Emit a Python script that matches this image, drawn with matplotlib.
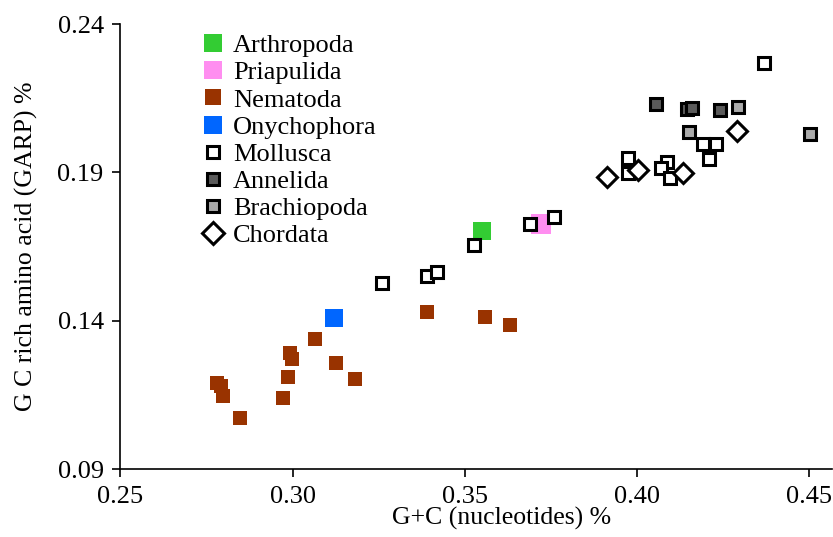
import matplotlib
matplotlib.use("Agg")
import matplotlib.pyplot as plt

plt.rcParams['font.family'] = ['Liberation Serif', 'DejaVu Serif']

# ---- data ----
arthropoda_x = [0.3549]
arthropoda_y = [0.1703]
priapulida_x = [0.3721]
priapulida_y = [0.1726]
nematoda_x = [0.2782, 0.2791, 0.2799, 0.2846, 0.2971, 0.2988, 0.2994, 0.2997,
              0.3064, 0.3125, 0.3180, 0.3390, 0.3558, 0.3631]
nematoda_y = [0.1190, 0.1180, 0.1146, 0.1072, 0.1139, 0.1210, 0.1291, 0.1271,
              0.1338, 0.1257, 0.1204, 0.1429, 0.1412, 0.1386]
onychophora_x = [0.3119]
onychophora_y = [0.1409]
mollusca_x = [0.3259, 0.3390, 0.3419, 0.3526, 0.3689, 0.3759, 0.4369, 0.4192,
              0.4230, 0.4209, 0.3974, 0.3974, 0.4087, 0.4070, 0.4096]
mollusca_y = [0.1527, 0.1551, 0.1564, 0.1655, 0.1726, 0.1750, 0.2269, 0.1996,
              0.1996, 0.1945, 0.1948, 0.1898, 0.1935, 0.1915, 0.1881]
annelida_x = [0.4055, 0.4145, 0.4160, 0.4241]
annelida_y = [0.2130, 0.2114, 0.2117, 0.2110]
brachiopoda_x = [0.4294, 0.4151, 0.4503]
brachiopoda_y = [0.2120, 0.2036, 0.2029]
chordata_x = [0.4291, 0.3913, 0.4003, 0.4134]
chordata_y = [0.2039, 0.1884, 0.1908, 0.1898]

x_ticks = [0.25, 0.30, 0.35, 0.40, 0.45]
y_ticks = [0.09, 0.14, 0.19, 0.24]

fig = plt.figure(figsize=(8.33, 5.37), dpi=100)
ax = fig.add_axes([0.1445, 0.1266, 0.8545, 0.8287])

ax.plot(arthropoda_x, arthropoda_y, 's', ms=13, mfc='#33CC33', mec='#33CC33', mew=0, label='Arthropoda', zorder=3)
ax.plot(priapulida_x, priapulida_y, 's', ms=14, mfc='#FF8EF0', mec='#FF8EF0', mew=0, label='Priapulida', zorder=3)
ax.plot(nematoda_x, nematoda_y, 's', ms=10.5, mfc='#993300', mec='#993300', mew=0, label='Nematoda', zorder=3)
ax.plot(onychophora_x, onychophora_y, 's', ms=13.5, mfc='#0066FF', mec='#0066FF', mew=0, label='Onychophora', zorder=3)
ax.plot(mollusca_x, mollusca_y, 's', ms=9, mfc='white', mec='black', mew=2.2, label='Mollusca', zorder=4)
ax.plot(annelida_x, annelida_y, 's', ms=9, mfc='#5A5A5A', mec='black', mew=2.2, label='Annelida', zorder=4)
ax.plot(brachiopoda_x, brachiopoda_y, 's', ms=9, mfc='#AAAAAA', mec='black', mew=2.2, label='Brachiopoda', zorder=4)
ax.plot(chordata_x, chordata_y, 'D', ms=10, mfc='white', mec='black', mew=2.2, label='Chordata', zorder=4)

ax.set_xlim(0.25, 0.4567)
ax.set_ylim(0.09, 0.24)
ax.set_xticks(x_ticks)
ax.set_xticklabels([f"{v:.2f}" for v in x_ticks])
ax.set_yticks(y_ticks)
ax.set_yticklabels([f"{v:.2f}" for v in y_ticks])

for s in ['top', 'right']:
    ax.spines[s].set_visible(False)
for s in ['left', 'bottom']:
    ax.spines[s].set_linewidth(1.2)
ax.tick_params(axis='both', direction='out', length=6, width=1.2, labelsize=19, pad=6)

ax.set_xlabel('G+C (nucleotides) %', fontsize=18.5, labelpad=0)
ax.xaxis.set_label_coords(0.535, -0.085)
ax.set_ylabel('G C rich amino acid (GARP) %', fontsize=18.5, labelpad=14)

leg = ax.legend(loc='upper left', bbox_to_anchor=(0.243, 0.937), bbox_transform=fig.transFigure,
                frameon=False, fontsize=19, handlelength=0.8, handletextpad=0.35,
                labelspacing=0.14, borderaxespad=0.0, borderpad=0.0, numpoints=1)
legend_ms = [13, 13, 11, 13, 8.5, 8.5, 8.5, 11]
for h, m in zip(leg.legend_handles, legend_ms):
    h.set_markersize(m)

fig.savefig('out.png', dpi=100)
